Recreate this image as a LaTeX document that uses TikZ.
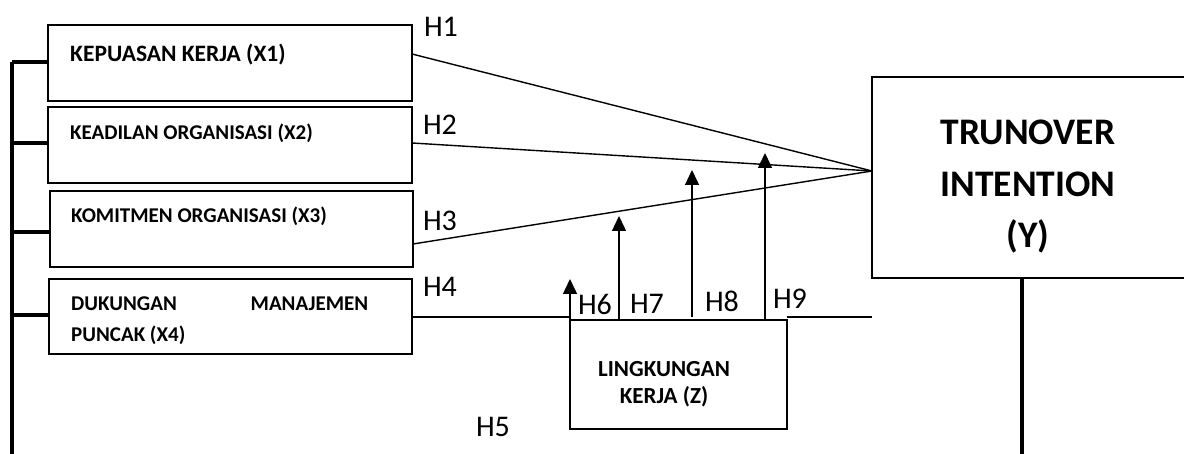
\documentclass[tikz,border=0pt]{standalone}
\usepackage{fontspec}
\setmainfont{Carlito}
\usetikzlibrary{arrows.meta,calc}
\begin{document}
\begin{tikzpicture}[x=1pt,y=-1pt,
  box/.style={draw,line width=1.4pt,anchor=north west,inner sep=0pt,outer sep=0pt},
  vlabel/.style={anchor=base west,inner sep=0pt,font=\bfseries\fontsize{21}{31}\selectfont,align=left},
  hyp/.style={inner sep=0pt,font=\fontsize{30}{30}\selectfont},
  link/.style={line width=1.4pt},
  bus/.style={line width=3.4pt},
  arr/.style={line width=1.4pt,-{Triangle[width=14pt,length=15pt]}}]
\useasboundingbox (0,0) rectangle (1184,454);

% independent variables
\node[box,minimum width=364pt,minimum height=76pt] (x1) at (48,25) {};
\node[box,minimum width=364pt,minimum height=76pt] (x2) at (48,107) {};
\node[box,minimum width=363pt,minimum height=76pt] (x3) at (50,191) {};
\node[box,minimum width=363pt,minimum height=75pt] (x4) at (49,279) {};
% dependent variable (runs past the right edge of the page) and moderator
\node[box,minimum width=324pt,minimum height=201pt] (y) at (872,77) {};
\node[box,minimum width=217pt,minimum height=109pt] (z) at (570,320) {};

% box texts (multi-line nodes are placed by the baseline of their last line)
\node[vlabel,font=\bfseries\fontsize{23.5}{31}\selectfont] (t1) at (70,62) {KEPUASAN KERJA (X1)};
\node[vlabel] (t2) at (70,140) {KEADILAN ORGANISASI (X2)};
\node[vlabel] (t3) at (71,223) {KOMITMEN ORGANISASI (X3)};
\node[vlabel] (t4) at (71,342) {\makebox[297pt][s]{DUKUNGAN MANAJEMEN}\\PUNCAK (X4)};
\node[anchor=base,inner sep=0pt,align=center,font=\bfseries\fontsize{37.5}{51.5}\selectfont] (ty) at (1028,248) {TRUNOVER\\INTENTION\\(Y)};
\node[anchor=base,inner sep=0pt,align=center,font=\bfseries\fontsize{23}{27}\selectfont] (tz) at (664,403) {LINGKUNGAN\\KERJA (Z)};

% left bus joining the four predictors
\coordinate (b1) at (12,62);
\coordinate (b2) at (12,143);
\coordinate (b3) at (12,232);
\coordinate (b4) at (12,315);
\coordinate (bend) at (12,454);
\draw[bus] (b1) -- (bend);
\draw[bus] (b1) -- (b1 -| x1.west);
\draw[bus] (b2) -- (b2 -| x2.west);
\draw[bus] (b3) -- (b3 -| x3.west);
\draw[bus] (b4) -- (b4 -| x4.west);

% line down from Y
\coordinate (yend) at (1022,454);
\draw[line width=4pt] (y.south west -| yend) -- (yend);

% direct paths into Y
\coordinate (yin) at (872,171);
\draw[link] ($(x1.north east)+(0,29)$) -- (yin);
\draw[link] ($(x2.north east)+(0,36)$) -- (yin);
\draw[link] ($(x3.north east)+(0,53)$) -- (yin);

% H4 path, broken by the moderator box
\coordinate (h4a) at ($(x4.north east)+(0,38)$);
\draw[link] (h4a) -- (h4a -| z.west);
\coordinate (h4b) at ($(z.north east)+(0,-3)$);
\draw[link] (h4b) -- (h4b -| y.west);

% moderation arrows
\coordinate (m6) at (570,279);
\coordinate (m7) at (619,216);
\coordinate (m8) at (692,170);
\coordinate (m9) at (765,153);
\draw[arr] (z.north west) -- (m6);
\draw[arr] (z.north west -| m7) -- (m7);
\draw[arr] ($(z.north west -| m8)+(0,-3)$) -- (m8);
\draw[arr] (z.north west -| m9) -- (m9);

% hypothesis labels
\node[hyp] (h1) at (441,27) {H1};
\node[hyp] (h2) at (440,125) {H2};
\node[hyp] (h3) at (440,221) {H3};
\node[hyp] (h4) at (440,287) {H4};
\node[hyp] (h5) at (493,427) {H5};
\node[hyp] (h6) at (595,304) {H6};
\node[hyp] (h7) at (647,304) {H7};
\node[hyp] (h8) at (722,301) {H8};
\node[hyp] (h9) at (790,299) {H9};
\end{tikzpicture}
\end{document}
